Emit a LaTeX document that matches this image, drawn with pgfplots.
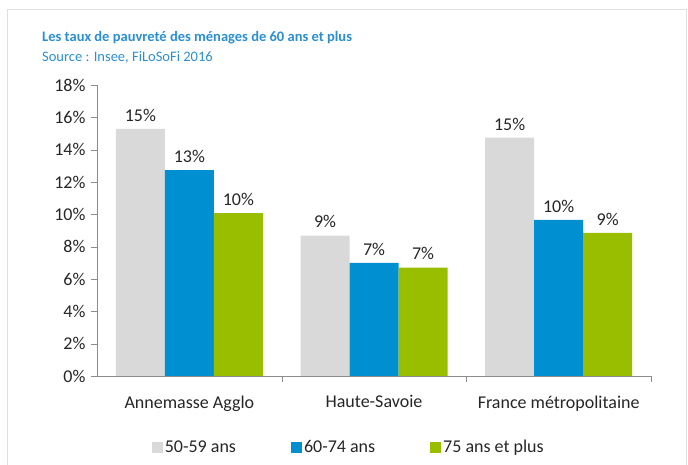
\documentclass[border=0pt]{standalone}
\usepackage{pgfplots}
\pgfplotsset{compat=1.18}
\usepackage{fontspec}
\setmainfont{Carlito}
\definecolor{cgray}{HTML}{D9D9D9}
\definecolor{cblue}{HTML}{0090D2}
\definecolor{cgreen}{HTML}{99BE00}
\definecolor{ctitle}{HTML}{2B8FD0}
\definecolor{caxis}{HTML}{8C8C8C}
\definecolor{ctext}{HTML}{262626}
\begin{document}
\begin{tikzpicture}[x=1pt,y=1pt]
\path[use as bounding box] (0,0) rectangle (688,465);
\draw[color=black!12, line width=1pt] (7,0) -- (7,455) -- (686,455) -- (686,0);
\node[anchor=west, text=ctitle, inner sep=0pt, font=\fontsize{14.5}{16}\selectfont\bfseries] at (42,427) {Les taux de pauvreté des ménages de 60 ans et plus};
\node[anchor=west, text=ctitle, inner sep=0pt, font=\fontsize{14.5}{16}\selectfont] at (42,408) {Source : Insee, FiLoSoFi 2016};
\begin{axis}[
  at={(97pt,89pt)}, anchor=south west,
  scale only axis, width=554pt, height=291pt,
  ymin=0, ymax=18, xmin=-0.5, xmax=2.5,
  ytick={0,2,...,18},
  yticklabel={\pgfmathprintnumber[assume math mode=true]{\tick}\%},
  xtick={0,1,2},
  xticklabels={Annemasse Agglo, Haute-Savoie, France métropolitaine},
  x tick style={draw=none},
  extra x ticks={0.5,1.5,2.5},
  extra x tick labels={},
  extra x tick style={x tick style={draw=caxis}, major tick length=6pt, tick align=outside},
  y tick style={draw=caxis},
  major tick length=6pt, tick align=outside,
  axis x line*=bottom, axis y line*=left,
  axis line style={caxis, line width=0.8pt},
  ticklabel style={font=\fontsize{18}{20}\selectfont, text=ctext},
  yticklabel style={xshift=-2pt},
  xticklabel style={yshift=-10pt},
  ybar=0pt, bar width=49pt,
  nodes near coords={\pgfmathprintnumber[fixed,precision=0,assume math mode=true]{\pgfplotspointmeta}\%},
  nodes near coords style={font=\fontsize{18}{20}\selectfont, text=ctext, yshift=4pt},
  legend image code/.code={\fill[#1] (0pt,-5.5pt) rectangle (11pt,5.5pt);},
  legend style={draw=none, fill=none, legend columns=3, font=\fontsize{18}{20}\selectfont, text=ctext,
    /tikz/every even column/.style={column sep=53pt},
    nodes={inner sep=2pt},
    at={(0.4545,-0.244)}, anchor=center},
  legend cell align=left,
]
\addplot[draw=none, fill=cgray] coordinates {(0,15.28) (1,8.68) (2,14.74)};
\addplot[draw=none, fill=cblue] coordinates {(0,12.74) (1,6.99) (2,9.65)};
\addplot[draw=none, fill=cgreen] coordinates {(0,10.08) (1,6.70) (2,8.86)};
\legend{50-59 ans, 60-74 ans, 75 ans et plus}
\end{axis}
\end{tikzpicture}
\end{document}
